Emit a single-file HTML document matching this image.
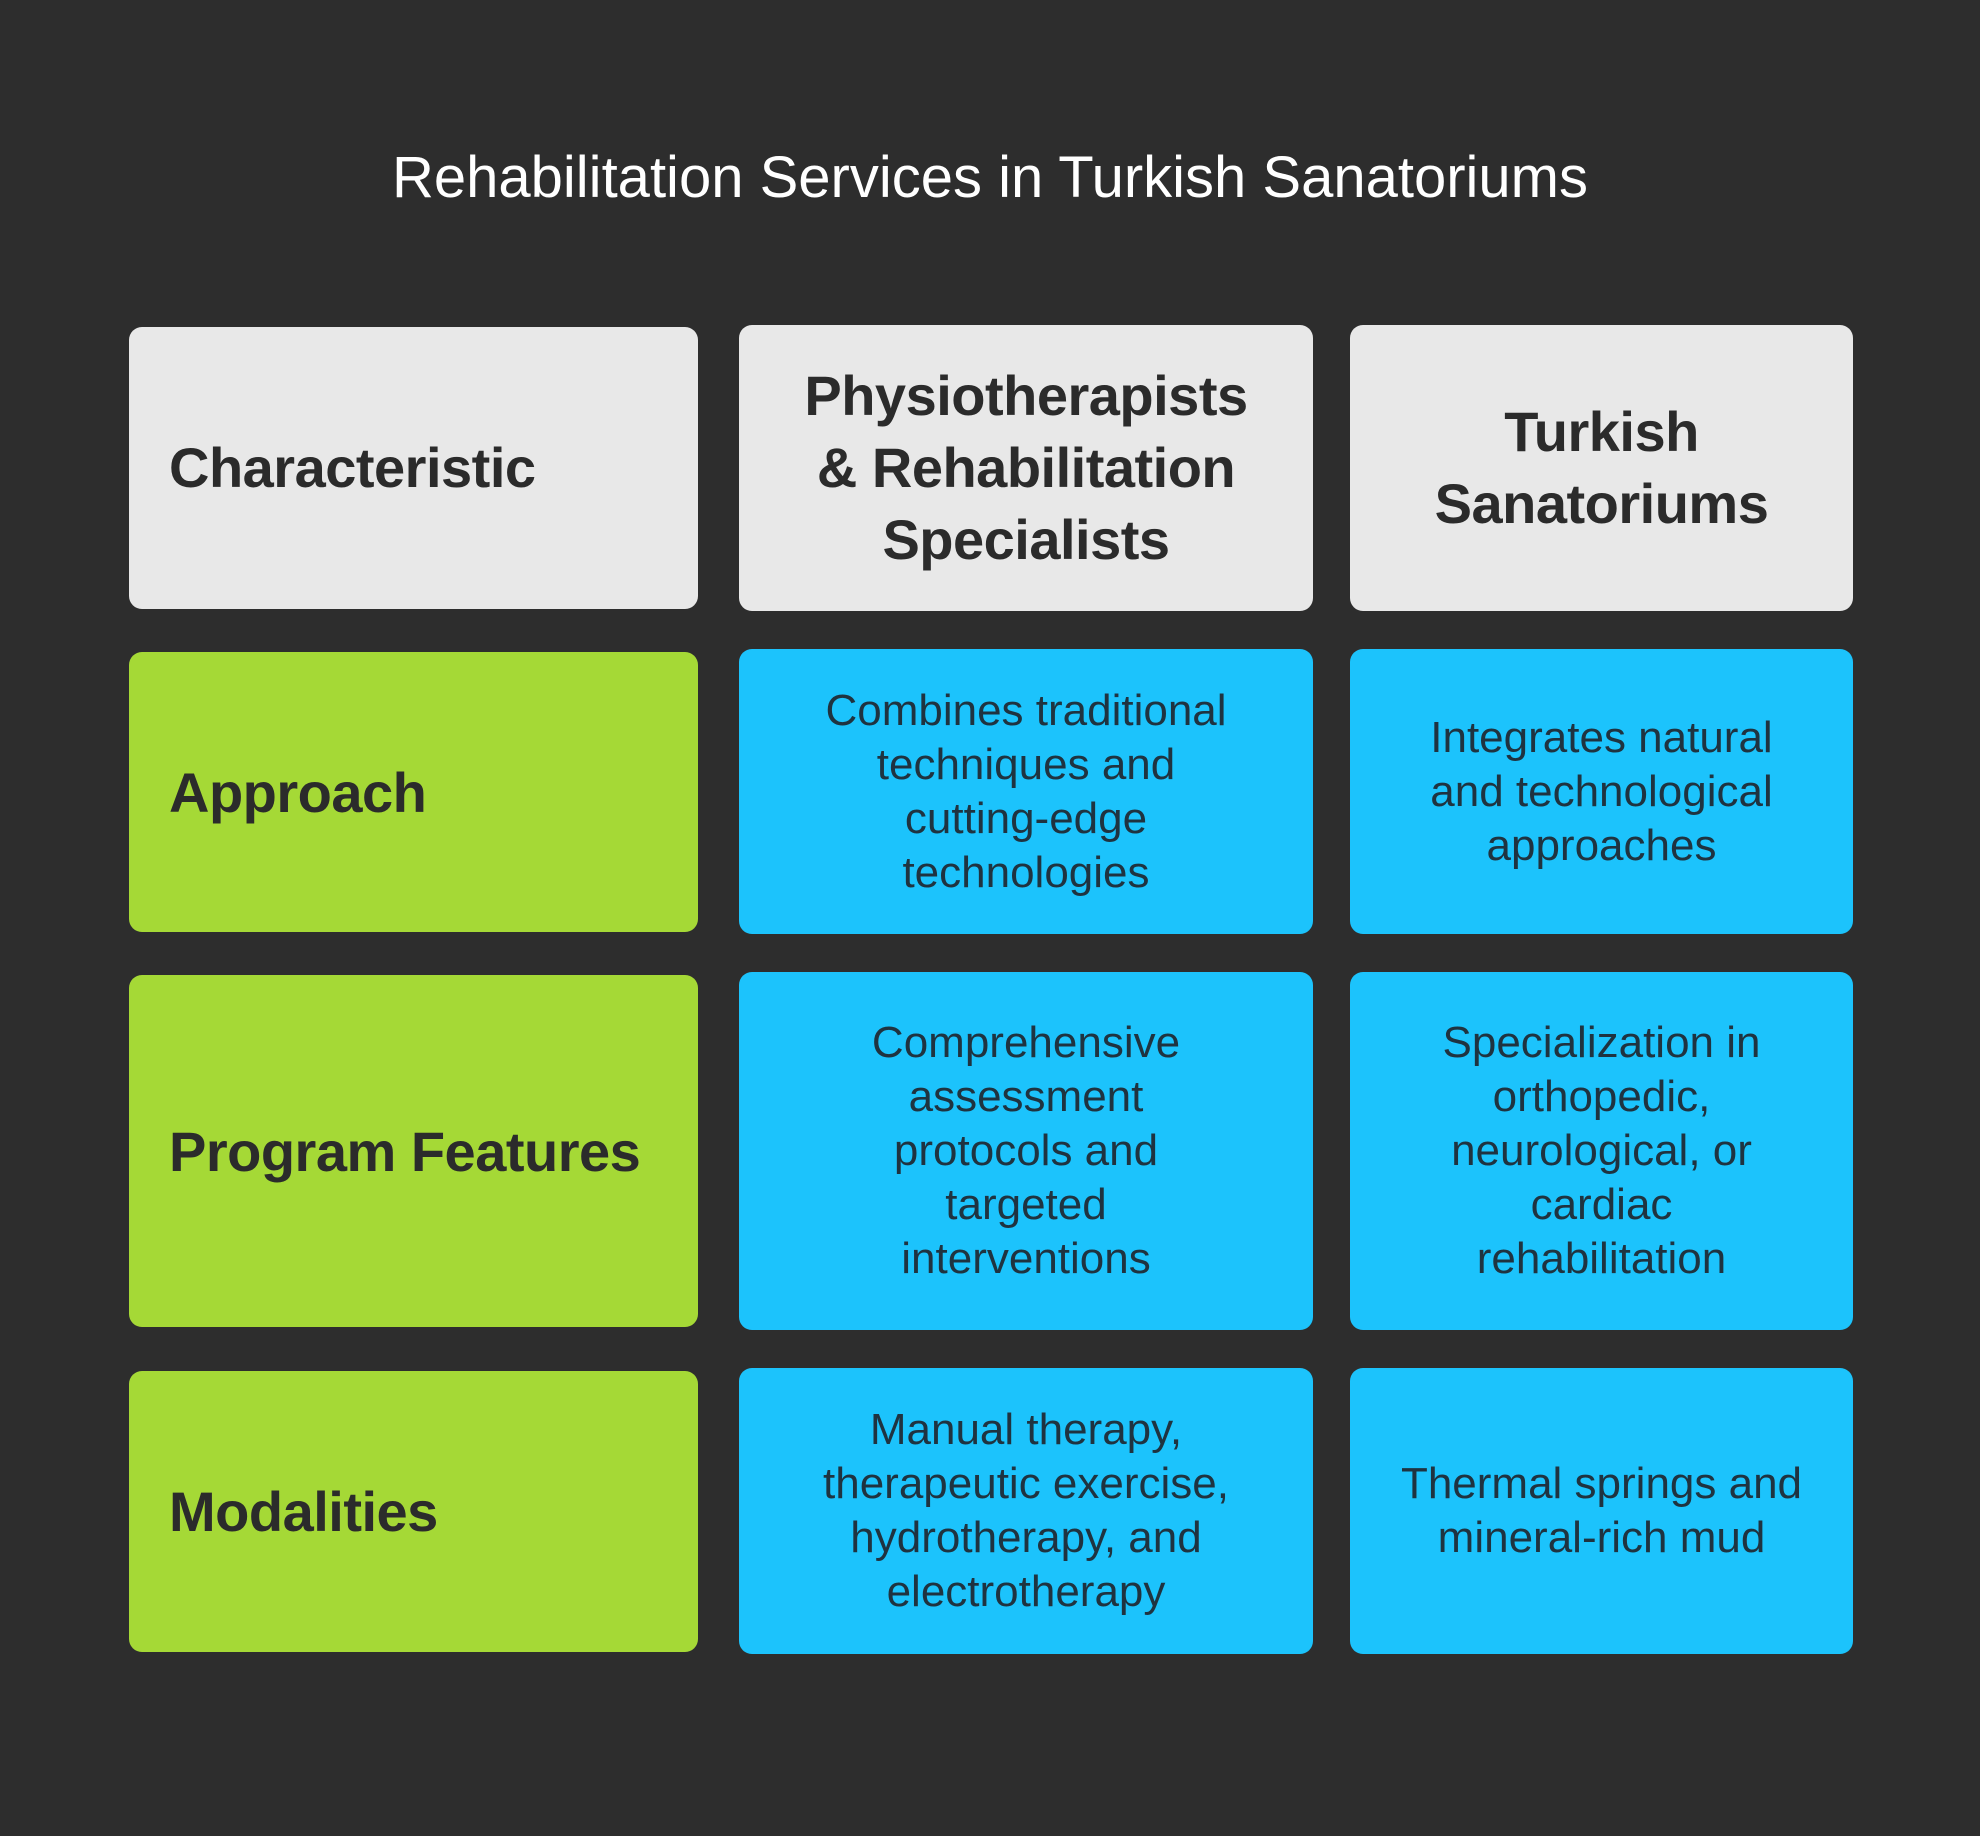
<!DOCTYPE html>
<html><head><meta charset="utf-8"><style>
body{margin:0;width:1980px;height:1836px;background:#2d2d2d;position:relative;overflow:hidden;font-family:"Liberation Sans",sans-serif}
.t{position:absolute;left:0;width:1980px;top:144px;text-align:center;color:#fff;font-size:58px;line-height:68px}
.b{position:absolute;border-radius:13px;display:flex;align-items:center;justify-content:center;text-align:center;box-sizing:border-box}
.h{background:#e8e8e8;color:#2b2b2b;font-weight:bold;font-size:56px;line-height:72px;letter-spacing:-0.5px}
.g{background:#a5d936;color:#2b2b2b;font-weight:bold;font-size:56px;letter-spacing:-0.5px;justify-content:flex-start;padding-left:40px}
.c{background:#1cc3fc;color:#1f3340;font-size:44px;line-height:54px;padding:0 10px}
.h.l{justify-content:flex-start;padding-left:40px}
</style></head><body>
<div class="t">Rehabilitation Services in Turkish Sanatoriums</div>

<div class="b h l" style="left:129px;top:327px;width:569px;height:282px">Characteristic</div>
<div class="b h" style="left:739px;top:325px;width:574px;height:286px">Physiotherapists<br>&amp; Rehabilitation<br>Specialists</div>
<div class="b h" style="left:1350px;top:325px;width:503px;height:286px">Turkish<br>Sanatoriums</div>

<div class="b g" style="left:129px;top:652px;width:569px;height:280px">Approach</div>
<div class="b c" style="left:739px;top:649px;width:574px;height:285px">Combines traditional<br>techniques and<br>cutting-edge<br>technologies</div>
<div class="b c" style="left:1350px;top:649px;width:503px;height:285px">Integrates natural<br>and technological<br>approaches</div>

<div class="b g" style="left:129px;top:975px;width:569px;height:352px">Program Features</div>
<div class="b c" style="left:739px;top:972px;width:574px;height:358px">Comprehensive<br>assessment<br>protocols and<br>targeted<br>interventions</div>
<div class="b c" style="left:1350px;top:972px;width:503px;height:358px">Specialization in<br>orthopedic,<br>neurological, or<br>cardiac<br>rehabilitation</div>

<div class="b g" style="left:129px;top:1371px;width:569px;height:281px">Modalities</div>
<div class="b c" style="left:739px;top:1368px;width:574px;height:286px">Manual therapy,<br>therapeutic exercise,<br>hydrotherapy, and<br>electrotherapy</div>
<div class="b c" style="left:1350px;top:1368px;width:503px;height:286px">Thermal springs and<br>mineral-rich mud</div>
</body></html>
